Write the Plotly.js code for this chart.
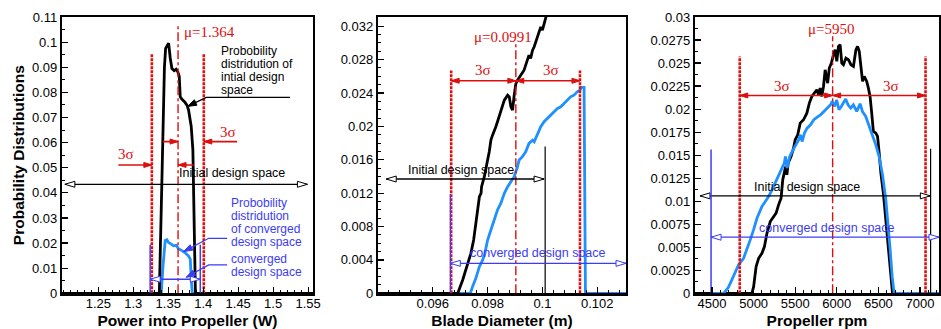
<!DOCTYPE html>
<html>
<head>
<meta charset="utf-8">
<script src="https://cdn.plot.ly/plotly-3.0.1.min.js"></script>
<style>html,body{margin:0;padding:0;background:#fff}#chart{width:941px;height:329px}</style>
</head>
<body>
<div id="chart"></div>
<script>
// ================= DATA =================
// Panel 1 : Power into Propeller (W)
const p1InitialX = [1.198, 1.3372, 1.3413, 1.3445, 1.3462, 1.3505, 1.3528, 1.3552, 1.3585, 1.3612, 1.3636, 1.3657, 1.3671, 1.3696, 1.3735, 1.3767, 1.379, 1.3815, 1.3828, 1.3852, 1.3872, 1.3888, 1.557];
const p1InitialY = [0, 0, 0.05, 0.09, 0.0975, 0.0996, 0.0937, 0.0895, 0.0886, 0.0892, 0.0882, 0.0864, 0.0782, 0.0772, 0.0762, 0.0749, 0.073, 0.0686, 0.0664, 0.0571, 0.0239, 0, 0];
const p1ConvergedX = [1.3241, 1.3399, 1.3425, 1.3456, 1.348, 1.3503, 1.3538, 1.3575, 1.3614, 1.3647, 1.3696, 1.3743, 1.379, 1.3815, 1.3829, 1.3844, 1.3958];
const p1ConvergedY = [0, 0, 0.011, 0.021, 0.0213, 0.0202, 0.0197, 0.0189, 0.0191, 0.0177, 0.017, 0.0161, 0.0148, 0.0136, 0.0053, 0, 0];
const p1Mean = 1.364;
const p1SigmaBounds = [1.3265, 1.4008];
const p1InitialSpace = [1.2021, 1.549];
const p1ConvergedSpace = [1.3241, 1.3958];
const p1XTickVals = [1.25, 1.3, 1.35, 1.4, 1.45, 1.5, 1.55];
const p1XTickText = ['1.25', '1.3', '1.35', '1.4', '1.45', '1.5', '1.55'];
const p1YTickVals = [0, 0.01, 0.02, 0.03, 0.04, 0.05, 0.06, 0.07, 0.08, 0.09, 0.1, 0.11];
const p1YTickText = ['0', '0.01', '0.02', '0.03', '0.04', '0.05', '0.06', '0.07', '0.08', '0.09', '0.1', '0.11'];

// Panel 2 : Blade Diameter (m)
const p2InitialX = [0.094, 0.09691, 0.09709, 0.09727, 0.09739, 0.09749, 0.09754, 0.0976, 0.09764, 0.0977, 0.09776, 0.09778, 0.09788, 0.09794, 0.098, 0.09806, 0.09812, 0.09818, 0.09824, 0.0983, 0.09836, 0.09842, 0.09848, 0.09855, 0.09861, 0.09873, 0.09879, 0.09885, 0.09891, 0.09897, 0.09903, 0.09909, 0.09921, 0.09933, 0.09939, 0.09945, 0.09951, 0.09957, 0.09964, 0.0997, 0.09976, 0.09982, 0.09988, 0.09994, 0.1, 0.10006, 0.10012, 0.10018];
const p2InitialY = [0, 0, 0.0016, 0.00359, 0.00479, 0.00638, 0.00758, 0.00918, 0.01037, 0.01157, 0.01197, 0.01277, 0.01397, 0.01516, 0.01596, 0.01696, 0.01835, 0.01895, 0.01935, 0.01995, 0.02055, 0.02115, 0.02195, 0.02274, 0.02314, 0.02374, 0.02354, 0.02234, 0.02195, 0.02374, 0.0251, 0.02554, 0.0262, 0.02673, 0.02733, 0.02793, 0.02853, 0.02813, 0.02913, 0.02953, 0.03012, 0.03072, 0.03132, 0.03192, 0.03152, 0.03232, 0.03292, 0.03372];
const p2ConvergedX = [0.09664, 0.09737, 0.09745, 0.09757, 0.0977, 0.09782, 0.0979, 0.098, 0.09812, 0.09824, 0.09836, 0.09848, 0.09861, 0.09873, 0.09885, 0.09897, 0.09909, 0.09915, 0.09927, 0.09939, 0.09951, 0.09964, 0.0997, 0.09982, 0.09994, 0.10006, 0.10018, 0.1003, 0.10042, 0.10055, 0.10067, 0.10079, 0.10091, 0.10103, 0.10115, 0.10127, 0.10137, 0.10142, 0.10152, 0.10157, 0.10305];
const p2ConvergedY = [0, 0, 0.0008, 0.0018, 0.00319, 0.00399, 0.00479, 0.00638, 0.00758, 0.00878, 0.00998, 0.01077, 0.01197, 0.01277, 0.01337, 0.01397, 0.01516, 0.01596, 0.01636, 0.01696, 0.01796, 0.01835, 0.01815, 0.01915, 0.01995, 0.02055, 0.02095, 0.02135, 0.02175, 0.02214, 0.02234, 0.02274, 0.02314, 0.02354, 0.02374, 0.02414, 0.02434, 0.02466, 0.02466, 0, 0];
const p2Mean = 0.09903;
const p2SigmaBounds = [0.09667, 0.10137];
const p2InitialSpace = [0.0943, 0.10006];
const p2InitialBar = 0.1001;
const p2ConvergedSpace = [0.09664, 0.10305];
const p2XTickVals = [0.096, 0.098, 0.1, 0.102];
const p2XTickText = ['0.096', '0.098', '0.1', '0.102'];
const p2YTickVals = [0, 0.004, 0.008, 0.012, 0.016, 0.02, 0.024, 0.028, 0.032];
const p2YTickText = ['0', '0.004', '0.008', '0.012', '0.016', '0.02', '0.024', '0.028', '0.032'];

// Panel 3 : Propeller rpm
const p3InitialX = [4295, 4979, 5000, 5030, 5060, 5100, 5130, 5160, 5200, 5240, 5270, 5300, 5330, 5350, 5370, 5385, 5400, 5415, 5450, 5480, 5500, 5530, 5560, 5600, 5640, 5670, 5700, 5730, 5760, 5780, 5800, 5820, 5840, 5860, 5875, 5890, 5910, 5935, 5960, 5980, 6000, 6020, 6040, 6060, 6080, 6110, 6140, 6170, 6200, 6230, 6250, 6270, 6290, 6310, 6330, 6360, 6380, 6400, 6420, 6440, 6470, 6490, 6510, 6530, 6560, 6590, 6620, 6645, 6670, 7229];
const p3InitialY = [0, 0, 0.00072, 0.0029, 0.0038, 0.00435, 0.00507, 0.00652, 0.00779, 0.00833, 0.0087, 0.0096, 0.01033, 0.01232, 0.01304, 0.01377, 0.01286, 0.01413, 0.01485, 0.01576, 0.01667, 0.01721, 0.01848, 0.01884, 0.01956, 0.02065, 0.02138, 0.02174, 0.0221, 0.02156, 0.02228, 0.02138, 0.02246, 0.02427, 0.02337, 0.02282, 0.02446, 0.025, 0.0259, 0.02645, 0.02518, 0.02681, 0.02699, 0.025, 0.02482, 0.02554, 0.02536, 0.02482, 0.02464, 0.02645, 0.02681, 0.02627, 0.02464, 0.02301, 0.02355, 0.02301, 0.02228, 0.02138, 0.01956, 0.01757, 0.01739, 0.01703, 0.01522, 0.01304, 0.01087, 0.00797, 0.00507, 0.00254, 0, 0];
const p3ConvergedX = [4488, 4636, 4657, 4697, 4738, 4778, 4818, 4879, 4919, 4959, 4999, 5040, 5100, 5140, 5180, 5221, 5261, 5301, 5341, 5369, 5382, 5402, 5434, 5474, 5515, 5543, 5563, 5583, 5611, 5643, 5684, 5724, 5764, 5805, 5845, 5885, 5925, 5945, 5974, 5998, 6026, 6054, 6086, 6107, 6135, 6167, 6199, 6240, 6280, 6308, 6348, 6389, 6429, 6469, 6509, 6550, 6590, 6618, 6642, 6666, 6690, 7229];
const p3ConvergedY = [0, 0, 0.00018, 0.00065, 0.00145, 0.00235, 0.00308, 0.0038, 0.00471, 0.0058, 0.00688, 0.00815, 0.00942, 0.00996, 0.01051, 0.01123, 0.01196, 0.01268, 0.01359, 0.01413, 0.01485, 0.01359, 0.01485, 0.01558, 0.0163, 0.01667, 0.01721, 0.01648, 0.01739, 0.01793, 0.0183, 0.01884, 0.01913, 0.01938, 0.01975, 0.02011, 0.02047, 0.02083, 0.02029, 0.02101, 0.01993, 0.02029, 0.02083, 0.02109, 0.02047, 0.02011, 0.02047, 0.01975, 0.02058, 0.01975, 0.0192, 0.01812, 0.01721, 0.01612, 0.01485, 0.01286, 0.01014, 0.00761, 0.00471, 0.00181, 0, 0];
const p3Mean = 5950;
const p3SigmaBounds = [4833, 7067];
const p3InitialSpace = [4355, 7125];
const p3InitialBar = 7128;
const p3ConvergedSpace = [4488, 7229];
const p3XTickVals = [4500, 5000, 5500, 6000, 6500, 7000];
const p3XTickText = ['4500', '5000', '5500', '6000', '6500', '7000'];
const p3YTickVals = [0, 0.0025, 0.005, 0.0075, 0.01, 0.0125, 0.015, 0.0175, 0.02, 0.0225, 0.025, 0.0275, 0.03];
const p3YTickText = ['0', '0.0025', '0.005', '0.0075', '0.01', '0.0125', '0.015', '0.0175', '0.02', '0.0225', '0.025', '0.0275', '0.03'];

// ================= STYLE / GEOMETRY =================
const W = 941, H = 329, TOP = 17, BOT = 293.3;
const PANELS = {
  1: {xr: [1.198, 1.557], yr: [0, 0.11], px: [62, 313]},
  2: {xr: [0.094, 0.10305], yr: [0, 0.0331], px: [378, 626]},
  3: {xr: [4295, 7229], yr: [0, 0.03], px: [695, 939]}
};
const RED = '#dc0f0f', BLUE = '#3c3cf5', CURVE_BLUE = '#1e90ff', BLACK = '#000000';
const TXT_FONT = 'Arial, Liberation Sans, sans-serif';
const SERIF = 'Times New Roman, Liberation Serif, serif';

const traces = [];
const annotations = [];
const xa = i => i === 1 ? 'x' : 'x' + i;
const ya = i => i === 1 ? 'y' : 'y' + i;
const kx = i => (PANELS[i].px[1] - PANELS[i].px[0]) / (PANELS[i].xr[1] - PANELS[i].xr[0]);
const ky = i => (BOT - TOP) / (PANELS[i].yr[1] - PANELS[i].yr[0]);

function seg(i, xs, ys, color, width, dash) {
  traces.push({x: xs, y: ys, xaxis: xa(i), yaxis: ya(i), mode: 'lines',
    line: {color: color, width: width, dash: dash || 'solid'}, hoverinfo: 'skip', showlegend: false});
}
function head(i, tx, ty, fx, fy, fill, stroke, L, Hh) {
  L = L || 9; Hh = Hh || 6;
  const dx = (tx - fx) * kx(i), dy = (ty - fy) * ky(i);
  const n = Math.hypot(dx, dy) || 1, ux = dx / n, uy = dy / n;
  const bx = -ux * L, by = -uy * L, qx = -uy * Hh / 2, qy = ux * Hh / 2;
  traces.push({
    x: [tx, tx + (bx + qx) / kx(i), tx + (bx - qx) / kx(i), tx],
    y: [ty, ty + (by + qy) / ky(i), ty + (by - qy) / ky(i), ty],
    xaxis: xa(i), yaxis: ya(i), mode: 'lines', fill: 'toself', fillcolor: fill,
    line: {color: stroke, width: 1}, hoverinfo: 'skip', showlegend: false});
}
function hollowDouble(i, x0, x1, y, color) {
  seg(i, [x0, x1], [y, y], color, 1.3);
  head(i, x0, y, x1, y, '#ffffff', color, 10, 6);
  head(i, x1, y, x0, y, '#ffffff', color, 10, 6);
}
function redArrow(i, fromX, toX, y) {
  seg(i, [fromX, toX], [y, y], RED, 1.6);
  head(i, toX, y, fromX, y, RED, RED, 8, 5);
}
function redDouble(i, x0, x1, y) {
  seg(i, [x0, x1], [y, y], RED, 1.6);
  head(i, x0, y, x1, y, RED, RED, 8, 5);
  head(i, x1, y, x0, y, RED, RED, 8, 5);
}
function leader(i, xs, ys, color) {
  seg(i, xs, ys, color, 1.3);
  const n = xs.length;
  head(i, xs[n - 1], ys[n - 1], xs[n - 2], ys[n - 2], color, color, 9, 6);
}
function txt(i, x, y, text, color, size, family, xanchor, yshift) {
  annotations.push({xref: xa(i), yref: ya(i), x: x, y: y, text: text, showarrow: false,
    xanchor: xanchor || 'center', yanchor: 'middle', yshift: yshift || 0, borderpad: 0,
    font: {family: family || TXT_FONT, size: size || 12.5, color: color}});
}
function lines(i, x, y, arr, color, step) {
  arr.forEach((t, k) => txt(i, x, y, t, color, 12, TXT_FONT, 'left', -k * step));
}
function sigmaLines(i, bounds, mean, top, meanTop) {
  bounds.forEach(b => seg(i, [b, b], [0, top], RED, 2.6, '3px,1px'));
  seg(i, [mean, mean], [0, meanTop], RED, 1.4, 'dashdot');
}

// ================= CURVES =================
const curve = (i, xs, ys, color) => traces.push({x: xs, y: ys, xaxis: xa(i), yaxis: ya(i), mode: 'lines',
  line: {color: color, width: 2.8}, hoverinfo: 'skip', showlegend: false});
curve(1, p1ConvergedX, p1ConvergedY, CURVE_BLUE);
curve(1, p1InitialX, p1InitialY, BLACK);
curve(2, p2ConvergedX, p2ConvergedY, CURVE_BLUE);
curve(2, p2InitialX, p2InitialY, BLACK);
curve(3, p3InitialX, p3InitialY, BLACK);
curve(3, p3ConvergedX, p3ConvergedY, CURVE_BLUE);

// ================= PANEL 1 DECORATIONS =================
sigmaLines(1, p1SigmaBounds, p1Mean, 0.0953, 0.107);
redArrow(1, 1.2786, p1SigmaBounds[0], 0.0511);
redArrow(1, 1.3862, p1Mean, 0.0511);
redArrow(1, 1.3423, p1Mean, 0.0604);
redArrow(1, 1.4485, p1SigmaBounds[1], 0.0604);
txt(1, 1.2896, 0.0555, '3σ', RED, 15, SERIF);
txt(1, 1.436, 0.0643, '3σ', RED, 15, SERIF);
txt(1, 1.3712, 0.1041, 'μ=1.364', RED, 15, SERIF, 'left');
hollowDouble(1, p1InitialSpace[0], p1InitialSpace[1], 0.0434, BLACK);
txt(1, 1.4413, 0.0478, 'Initial design space', BLACK);
p1ConvergedSpace.forEach(b => seg(1, [b, b], [0, 0.0193], BLUE, 1.5));
hollowDouble(1, p1ConvergedSpace[0], p1ConvergedSpace[1], 0.0056, BLUE);
lines(1, 1.4235, 0.0966, ['Probobility', 'distridution of', 'intial design', 'space'], BLACK, 13);
leader(1, [1.524, 1.4044, 1.3776], [0.078, 0.078, 0.0744], BLACK);
lines(1, 1.4379, 0.036, ['Probobility', 'distridution', 'of converged', 'design space'], BLUE, 13);
leader(1, [1.4342, 1.4078, 1.3719], [0.0219, 0.0219, 0.0166], BLUE);
lines(1, 1.4379, 0.0137, ['converged', 'design space'], BLUE, 13);
leader(1, [1.4342, 1.4078, 1.3757], [0.0113, 0.0113, 0.0064], BLUE);

// ================= PANEL 2 DECORATIONS =================
sigmaLines(2, p2SigmaBounds, p2Mean, 0.0267, 0.0299);
redDouble(2, p2SigmaBounds[0], p2Mean, 0.02546);
redDouble(2, p2Mean, p2SigmaBounds[1], 0.02546);
txt(2, 0.09782, 0.02674, '3σ', RED, 15, SERIF);
txt(2, 0.1003, 0.02674, '3σ', RED, 15, SERIF);
txt(2, 0.09855, 0.03073, 'μ=0.0991', RED, 15, SERIF);
seg(2, [p2InitialBar, p2InitialBar], [0, 0.0176], BLACK, 1.2);
hollowDouble(2, p2InitialSpace[0], p2InitialSpace[1], 0.01369, BLACK);
txt(2, 0.09703, 0.01476, 'Initial design space', BLACK);
seg(2, [p2ConvergedSpace[0], p2ConvergedSpace[0]], [0, 0.0119], BLUE, 1.3);
hollowDouble(2, p2ConvergedSpace[0], p2ConvergedSpace[1], 0.00359, BLUE);
txt(2, 0.09985, 0.00487, 'converged design space', BLUE);

// ================= PANEL 3 DECORATIONS =================
sigmaLines(3, p3SigmaBounds, p3Mean, 0.0257, 0.0279);
redDouble(3, p3SigmaBounds[0], p3Mean, 0.02148);
redDouble(3, p3Mean, p3SigmaBounds[1], 0.02148);
txt(3, 5342, 0.02253, '3σ', RED, 15, SERIF);
txt(3, 6650, 0.02253, '3σ', RED, 15, SERIF);
txt(3, 5935, 0.0287, 'μ=5950', RED, 15, SERIF);
seg(3, [p3InitialBar, p3InitialBar], [0, 0.0157], BLACK, 1.2);
hollowDouble(3, p3InitialSpace[0], p3InitialSpace[1], 0.01058, BLACK);
txt(3, 5644, 0.01159, 'Initial design space', BLACK);
seg(3, [p3ConvergedSpace[0], p3ConvergedSpace[0]], [0, 0.0156], BLUE, 1.5);
hollowDouble(3, p3ConvergedSpace[0], p3ConvergedSpace[1], 0.00609, BLUE);
txt(3, 5877, 0.00707, 'converged design space', BLUE);

// ================= AXES =================
const common = {
  showline: true, mirror: true, linecolor: '#000', linewidth: 2.2,
  ticks: 'inside', ticklen: 6, tickwidth: 1.2, tickcolor: '#000',
  showgrid: false, zeroline: false, automargin: false, fixedrange: true,
  tickfont: {family: TXT_FONT, size: 13, color: '#000'}, tickmode: 'array'
};
const titleFont = {family: TXT_FONT, size: 15.5, color: '#000'};
function xAxis(i, vals, text, minorTick0, minorDtick, title) {
  return Object.assign({}, common, {
    domain: [PANELS[i].px[0] / W, PANELS[i].px[1] / W], range: PANELS[i].xr, anchor: ya(i),
    tickvals: vals, ticktext: text, ticklabelstandoff: -3,
    minor: {tickmode: 'linear', tick0: minorTick0, dtick: minorDtick, ticks: 'inside', ticklen: 3, tickwidth: 1, tickcolor: '#000', showgrid: false},
    title: {text: '<b>' + title + '</b>', font: titleFont, standoff: 5}
  });
}
function yAxis(i, vals, text, minorDtick, title) {
  const o = Object.assign({}, common, {
    domain: [(H - BOT) / H, (H - TOP) / H], range: PANELS[i].yr, anchor: xa(i),
    tickvals: vals, ticktext: text,
    minor: {tickmode: 'linear', tick0: 0, dtick: minorDtick, ticks: 'inside', ticklen: 3, tickwidth: 1, tickcolor: '#000', showgrid: false}
  });
  if (title) o.title = {text: '<b>' + title + '</b>', font: titleFont, standoff: 4};
  return o;
}

const layout = {
  width: W, height: H, margin: {l: 0, r: 0, t: 0, b: 0},
  paper_bgcolor: '#fff', plot_bgcolor: '#fff', showlegend: false, hovermode: false,
  font: {family: TXT_FONT, color: '#000'},
  xaxis: xAxis(1, p1XTickVals, p1XTickText, 1.2, 0.01, 'Power into Propeller (W)'),
  yaxis: yAxis(1, p1YTickVals, p1YTickText, 0.005, 'Probability Distributions'),
  xaxis2: xAxis(2, p2XTickVals, p2XTickText, 0.094, 0.0004, 'Blade Diameter (m)'),
  yaxis2: yAxis(2, p2YTickVals, p2YTickText, 0.001),
  xaxis3: xAxis(3, p3XTickVals, p3XTickText, 4300, 100, 'Propeller rpm'),
  yaxis3: yAxis(3, p3YTickVals, p3YTickText, 0.00125),
  annotations: annotations
};

Plotly.newPlot('chart', traces, layout, {staticPlot: true, displayModeBar: false});
</script>
</body>
</html>
